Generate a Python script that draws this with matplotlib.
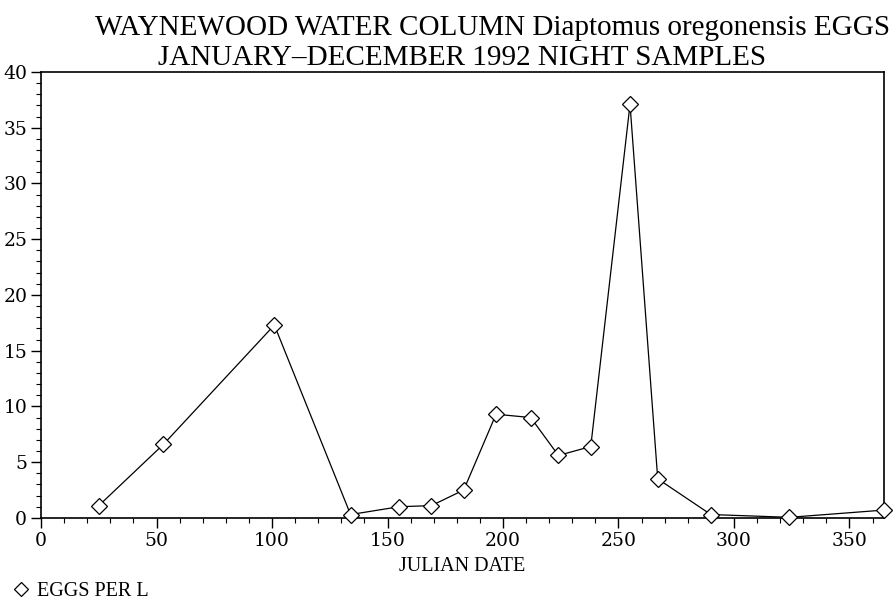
import matplotlib
matplotlib.use("Agg")
import matplotlib.pyplot as plt
from matplotlib.ticker import MultipleLocator

# Night samples, 1992: julian date vs. Diaptomus oregonensis eggs per litre
julian_day = [25, 53, 101, 134, 155, 169, 183, 197, 212, 224, 238, 255, 267, 290, 324, 365]
eggs_per_l = [1.1, 6.6, 17.3, 0.3, 1.0, 1.1, 2.5, 9.3, 9.0, 5.6, 6.4, 37.1, 3.5, 0.3, 0.05, 0.7]

title_lines = ["WAYNEWOOD WATER COLUMN Diaptomus oregonensis EGGS",
               "JANUARY\u2013DECEMBER 1992 NIGHT SAMPLES"]
x_label = "JULIAN DATE"
series_label = "EGGS PER L"

TITLE_FONT = "Liberation Serif"
plt.rcParams["font.family"] = "DejaVu Serif"

fig = plt.figure(figsize=(8.93, 6.05), dpi=100)
ax = fig.add_axes([0.046, 0.144, 0.944, 0.737])

ax.plot(julian_day, eggs_per_l, color="black", lw=0.9,
        marker="D", ms=8, mfc="white", mec="black", mew=0.9,
        label=series_label, clip_on=False, zorder=3)

ax.set_xlim(0, 365)
ax.set_ylim(0, 40)
ax.xaxis.set_major_locator(MultipleLocator(50))
ax.xaxis.set_minor_locator(MultipleLocator(10))
ax.yaxis.set_major_locator(MultipleLocator(5))
ax.yaxis.set_minor_locator(MultipleLocator(1))
ax.tick_params(which="major", direction="out", length=7, width=1.0, labelsize=13.5, pad=3)
ax.tick_params(which="minor", direction="out", length=3.5, width=0.8)
for sp in ax.spines.values():
    sp.set_linewidth(1.2)

ax.set_xlabel(x_label, family=TITLE_FONT, fontsize=14.5, labelpad=5)

fig.text(0.552, 0.975, title_lines[0], ha="center", va="top",
         family=TITLE_FONT, fontsize=21)
fig.text(0.517, 0.925, title_lines[1], ha="center", va="top",
         family=TITLE_FONT, fontsize=21)

leg = ax.legend(loc="lower left", bbox_to_anchor=(-0.004, -0.024), bbox_transform=fig.transFigure,
                frameon=False, handlelength=0.6, handletextpad=0.5,
                prop={"family": TITLE_FONT, "size": 14.5})
leg.legend_handles[0].set_linestyle("none")
leg.legend_handles[0].set_markersize(7)

fig.savefig("out.png", dpi=100)
